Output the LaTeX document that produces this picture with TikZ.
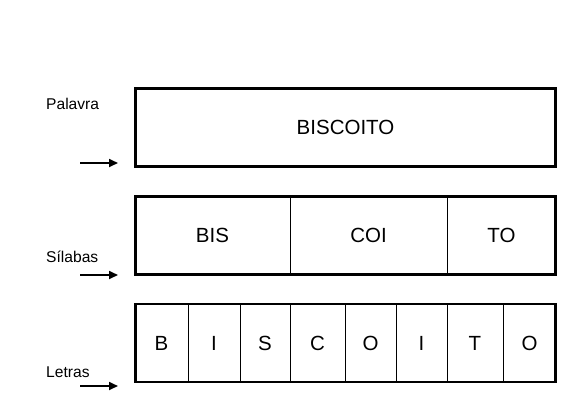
\documentclass[tikz,border=0pt]{standalone}
\usepackage{fontspec}
\setmainfont{Liberation Sans}
\usetikzlibrary{arrows.meta}
\begin{document}
\begin{tikzpicture}[x=1pt,y=-1pt,
  outerbox/.style={draw=black, line width=2.8pt, inner sep=0pt, minimum height=78pt, font=\fontsize{20.5}{23}\selectfont},
  cell/.style={draw=black, line width=0.9pt, inner sep=0pt, minimum height=78pt, font=\fontsize{20.5}{23}\selectfont},
  lbl/.style={anchor=base west, inner sep=0pt, font=\fontsize{15.6}{18}\selectfont},
  arr/.style={line width=1.7pt, -{Triangle[length=9pt,width=8pt]}}]
\useasboundingbox (0,0) rectangle (567,400);
% row 1: word
\node[outerbox, minimum width=420pt] (w) at (345.5,127.5) {BISCOITO};
% row 2: syllables
\node[cell, minimum width=155pt] (s1) at (212.5,235.5) {BIS};
\node[cell, minimum width=157pt] (s2) at (368.5,235.5) {COI};
\node[cell, minimum width=109pt] (s3) at (501.5,235.5) {TO};
\node[draw=black, line width=2.8pt, inner sep=0pt, minimum width=420pt, minimum height=78pt] (sf) at (345.5,235.5) {};
% row 3: letters
\node[cell, minimum width=53pt] (l1) at (161.5,343) {B};
\node[cell, minimum width=52pt] (l2) at (214,343) {I};
\node[cell, minimum width=50pt] (l3) at (265,343) {S};
\node[cell, minimum width=55pt] (l4) at (317.5,343) {C};
\node[cell, minimum width=51pt] (l5) at (370.5,343) {O};
\node[cell, minimum width=51pt] (l6) at (421.5,343) {I};
\node[cell, minimum width=56pt] (l7) at (475,343) {T};
\node[cell, minimum width=53pt] (l8) at (529.5,343) {O};
\node[draw=black, line width=2.8pt, inner sep=0pt, minimum width=420pt, minimum height=78pt] (lf) at (345.5,343) {};
% labels
\node[lbl] (pl) at (46,109) {Palavra};
\node[lbl] (sl) at (46,262) {Sílabas};
\node[lbl] (ll) at (46,377) {Letras};
% arrows
\coordinate (pa0) at (80,163); \coordinate (pa1) at (118,163);
\coordinate (sa0) at (80,275); \coordinate (sa1) at (118,275);
\coordinate (la0) at (80,386); \coordinate (la1) at (118,386);
\draw[arr] (pa0) -- (pa1);
\draw[arr] (sa0) -- (sa1);
\draw[arr] (la0) -- (la1);
\end{tikzpicture}
\end{document}
